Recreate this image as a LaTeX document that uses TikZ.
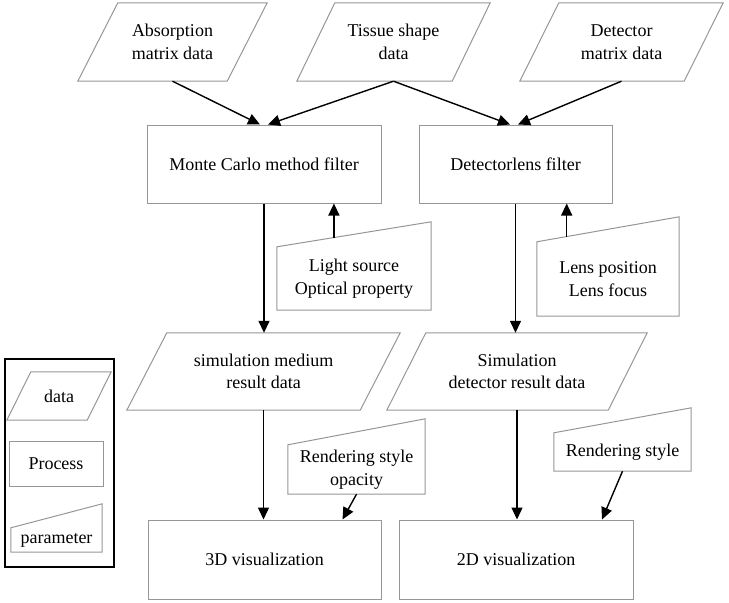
\documentclass[tikz,border=0pt]{standalone}
\usepackage{fontspec}
\setmainfont{Liberation Serif}
\usetikzlibrary{calc,arrows.meta}
\definecolor{shapegray}{RGB}{150,150,150}
\tikzset{
  shapeline/.style={draw=shapegray, line width=1pt, line join=miter},
  txt/.style={font=\fontsize{18}{22.5}\selectfont, align=center, inner sep=0pt},
  datan/.style={txt},
  proc/.style={txt, shapeline},
  paramn/.style={txt},
  arr/.style={line width=1.4pt, -{Triangle[length=12pt,width=11pt]}}
}
\newcommand{\dataparal}[2]{%
  \draw[shapeline] ([xshift=#2/2]#1.north west) -- ([xshift=#2/2]#1.north east)
    -- ([xshift=-#2/2]#1.south east) -- ([xshift=-#2/2]#1.south west) -- cycle;}
\newcommand{\paramtop}[2]{%
  \coordinate (#1-tr) at ([yshift=#2]#1.north east);
  \draw[shapeline] (#1.south west) -- (#1.north west) -- (#1-tr) -- (#1.south east) -- cycle;}
\begin{document}
\begin{tikzpicture}[x=1pt,y=-1pt]
\useasboundingbox (0,0) rectangle (729,603);
% top data
\node[datan, minimum width=149, minimum height=78] (abs) at (172.5,42) {Absorption\\matrix data};
\node[datan, minimum width=155, minimum height=78] (tis) at (393.5,42) {Tissue shape\\data};
\node[datan, minimum width=164, minimum height=78] (det) at (621.5,42) {Detector\\matrix data};
\dataparal{abs}{40}
\dataparal{tis}{38}
\dataparal{det}{39}
% filters
\node[proc, minimum width=234, minimum height=78] (mc) at (264,164) {Monte Carlo method filter};
\node[proc, minimum width=193, minimum height=78] (dl) at (515.5,164) {Detectorlens filter};
% parameters
\node[paramn, minimum width=154, minimum height=63] (ls) at (354,278.5) {Light source\\Optical property};
\node[paramn, minimum width=142, minimum height=74] (lp) at (608,279) {Lens position\\Lens focus};
\paramtop{ls}{25}
\paramtop{lp}{25}
% middle data
\node[datan, minimum width=233, minimum height=77] (ml) at (263.5,371.5) {simulation medium\\result data};
\node[datan, minimum width=221, minimum height=77] (mr) at (517,371.5) {Simulation\\detector result data};
\dataparal{ml}{40}
\dataparal{mr}{39}
% rendering parameters
\node[paramn, minimum width=137, minimum height=49] (ro) at (356.5,469.5) {Rendering style\\opacity};
\node[paramn, minimum width=137, minimum height=38] (rr) at (622.5,452) {Rendering style};
\paramtop{ro}{26}
\paramtop{rr}{25}
% visualizations
\node[proc, minimum width=233, minimum height=79] (v3) at (264.5,559.5) {3D visualization};
\node[proc, minimum width=234, minimum height=79] (v2) at (516,559.5) {2D visualization};
% legend
\node[draw=black, line width=2.5pt, minimum width=109, minimum height=208, inner sep=0pt] (leg) at (59.5,463) {};
\node[datan, minimum width=80, minimum height=48] (ld) at (59,396) {data};
\dataparal{ld}{24}
\node[proc, minimum width=94, minimum height=45] (lpr) at (56,463.5) {Process};
\node[paramn, minimum width=91, minimum height=24] (lpa) at (56.5,540) {parameter};
\paramtop{lpa}{24}
% connectors
\draw[arr] (abs.south) -- ([xshift=-4]mc.north);
\draw[arr] (tis.south) -- ([xshift=4]mc.north);
\draw[arr] (tis.south) -- ([xshift=-5.5]dl.north);
\draw[arr] (det.south) -- ([xshift=2.5]dl.north);
\draw[arr] (mc.south) -- (mc.south |- ml.north);
\draw[arr] (dl.south) -- (dl.south |- mr.north);
\coordinate (lsa) at ($(ls.north west)!0.37!(ls-tr)$);
\coordinate (lpa2) at ($(lp.north west)!0.21!(lp-tr)$);
\draw[arr] (lsa) -- (lsa |- mc.south);
\draw[arr] (lpa2) -- (lpa2 |- dl.south);
\draw[arr] (ml.south) -- (ml.south |- v3.north);
\draw[arr] (mr.south) -- (mr.south |- v2.north);
\draw[arr] (ro.south) -- ([xshift=78]v3.north);
\draw[arr] (rr.south) -- ([xshift=86]v2.north);
\end{tikzpicture}
\end{document}
